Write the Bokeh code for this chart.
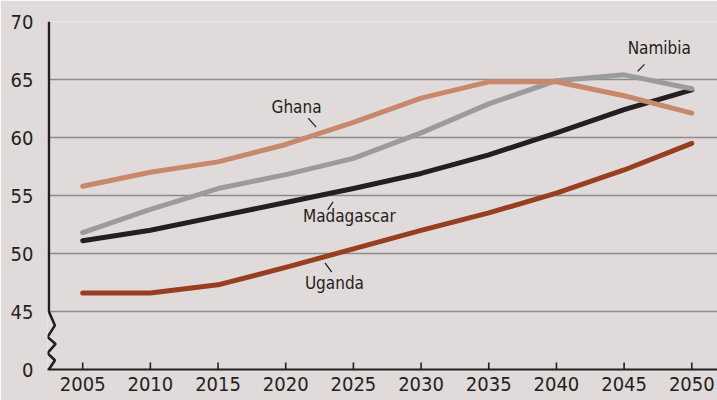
from bokeh.plotting import figure
from bokeh.models import FixedTicker, Range1d
from bokeh.core.properties import value
from bokeh.embed import file_html
from bokeh.resources import INLINE

years = [2005, 2010, 2015, 2020, 2025, 2030, 2035, 2040, 2045, 2050]
ghana = [55.8, 57.0, 57.9, 59.4, 61.3, 63.4, 64.8, 64.8, 63.6, 62.1]
namibia = [51.8, 53.8, 55.6, 56.8, 58.2, 60.4, 62.9, 64.9, 65.4, 64.2]
madagascar = [51.1, 52.0, 53.2, 54.4, 55.6, 56.9, 58.5, 60.4, 62.4, 64.1]
uganda = [46.6, 46.6, 47.3, 48.8, 50.4, 52.0, 53.5, 55.2, 57.2, 59.5]

y_ticks = [40, 45, 50, 55, 60, 65, 70]
y_tick_labels = ["0", "45", "50", "55", "60", "65", "70"]
grid_ticks = [45, 50, 55, 60, 65, 70]

BG = "#e1dadb"
FONT = "Liberation Sans Narrow, DejaVu Sans Condensed, sans-serif"
INK = "#231f20"

p = figure(width=717, height=400, output_backend="svg", toolbar_location=None,
           x_range=Range1d(2002.4, 2051.9), y_range=Range1d(40, 70),
           min_border_left=47, min_border_right=0, min_border_top=21,
           min_border_bottom=31)
p.background_fill_color = BG
p.border_fill_color = BG
p.outline_line_color = None

p.xaxis.ticker = FixedTicker(ticks=years)
p.xaxis.axis_line_color = INK
p.xaxis.axis_line_width = 2
p.xaxis.major_tick_in = 0
p.xaxis.major_tick_out = 0
p.xaxis.major_tick_line_color = None
p.xaxis.minor_tick_line_color = None
p.xaxis.major_label_text_font = FONT
p.xaxis.major_label_text_font_size = "20px"
p.xaxis.major_label_text_color = INK
p.xaxis.major_label_standoff = 7

p.yaxis.ticker = FixedTicker(ticks=y_ticks)
p.yaxis.major_label_overrides = {t: l for t, l in zip(y_ticks, y_tick_labels)}
p.yaxis.axis_line_color = None
p.yaxis.major_tick_line_color = None
p.yaxis.minor_tick_line_color = None
p.yaxis.major_label_text_font = FONT
p.yaxis.major_label_text_font_size = "20px"
p.yaxis.major_label_text_color = INK
p.yaxis.major_label_standoff = 8

p.xgrid.grid_line_color = None
p.ygrid.ticker = FixedTicker(ticks=grid_ticks)
p.ygrid.grid_line_color = "#8d8a8b"
p.ygrid.grid_line_width = 1.3

p.segment(x0=years, y0=[40] * len(years), x1=years, y1=[40.6] * len(years),
          line_color=INK, line_width=1.6)

ax = 2002.5
zx = [ax, ax, ax + 0.45, ax - 0.1, ax + 0.5, ax - 0.1, ax + 0.45, ax]
zy = [70, 45, 43.8, 42.8, 42.2, 41.4, 40.8, 40]
p.line(zx, zy, line_color=INK, line_width=2.6)

p.line(years, uganda, line_color="#983f22", line_width=5, line_cap="round", line_join="round")
p.line(years, madagascar, line_color=INK, line_width=5, line_cap="round", line_join="round")
p.line(years, namibia, line_color="#9b9b9d", line_width=5, line_cap="round", line_join="round")
p.line(years, ghana, line_color="#c8886b", line_width=5, line_cap="round", line_join="round")

names = ["Ghana", "Namibia", "Madagascar", "Uganda"]
lx = [2020.8, 2047.6, 2024.7, 2023.6]
ly = [62.6, 67.7, 53.25, 47.5]
p.text(lx, ly, text=names, text_font=value(FONT), text_font_size="17px",
       text_color=INK, text_align="center", text_baseline="middle")
p.segment(x0=[2021.66, 2046.5, 2023.5, 2022.9], y0=[61.67, 66.3, 54.45, 49.2],
          x1=[2022.25, 2046.0, 2023.1, 2023.4], y1=[60.9, 65.7, 53.76, 48.4],
          line_color=INK, line_width=1.3)

open("out.html", "w").write(file_html(p, INLINE))
